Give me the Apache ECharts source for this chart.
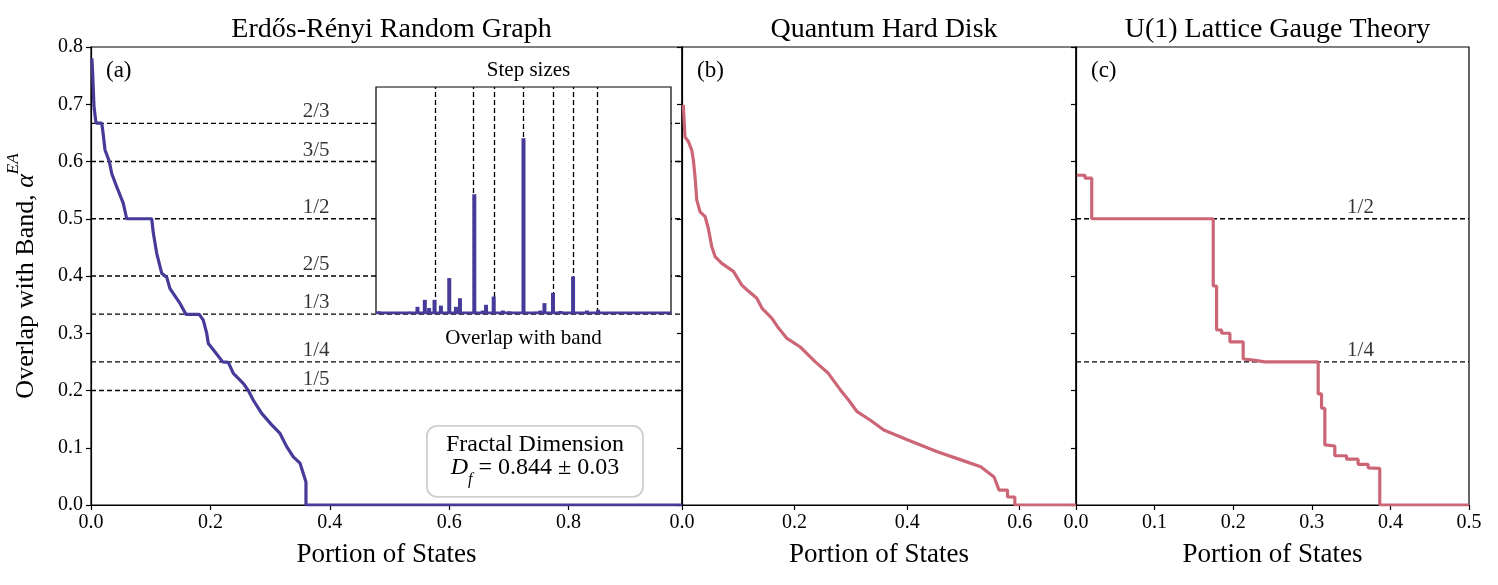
<!DOCTYPE html>
<html>
<head>
<meta charset="utf-8">
<script src="https://cdn.jsdelivr.net/npm/echarts@6/dist/echarts.min.js"></script>
<style>html,body{margin:0;padding:0;background:#fff;}#c{width:1498px;height:585px;}</style>
</head>
<body>
<div id="c"></div>
<script>
// ---------- data ----------
const erdosX = [0.0015,0.0028,0.0039,0.005,0.0084,0.0179,0.0196,0.0235,0.0307,0.033,0.0347,0.043,0.0541,0.0598,0.1017,0.1044,0.11,0.1184,0.1268,0.1323,0.1491,0.1591,0.1814,0.1881,0.1938,0.1965,0.2049,0.2206,0.23,0.2384,0.2551,0.2635,0.2719,0.2859,0.3027,0.3166,0.3278,0.3389,0.3501,0.3556,0.3601,0.3601,0.99];
const erdosY = [0.78,0.754,0.725,0.696,0.667,0.667,0.655,0.62,0.6,0.6,0.579,0.556,0.527,0.5,0.5,0.475,0.44,0.405,0.398,0.378,0.352,0.333,0.333,0.323,0.30,0.282,0.271,0.25,0.249,0.23,0.2125,0.2,0.183,0.16,0.14,0.125,0.102,0.084,0.073,0.055,0.04,0,0];

const diskX = [0.0023,0.0053,0.0112,0.0173,0.0201,0.0232,0.0262,0.0321,0.041,0.0468,0.0529,0.0588,0.0707,0.0914,0.1063,0.1152,0.133,0.1419,0.1598,0.1715,0.1865,0.2101,0.2369,0.26,0.2814,0.2962,0.3111,0.3348,0.3585,0.4002,0.4536,0.4892,0.5307,0.5544,0.5633,0.5783,0.5783,0.5913,0.5913,0.7];
const diskY = [0.699,0.643,0.635,0.62,0.603,0.573,0.533,0.512,0.504,0.483,0.451,0.434,0.422,0.408,0.384,0.376,0.361,0.344,0.326,0.309,0.291,0.276,0.25,0.23,0.201,0.183,0.163,0.148,0.131,0.114,0.093,0.081,0.067,0.049,0.026,0.026,0.014,0.014,0,0];

const gaugeX = [0.0009,0.0114,0.0114,0.02,0.02,0.1746,0.1746,0.1789,0.1789,0.1853,0.1853,0.1958,0.1958,0.2127,0.2127,0.2254,0.2403,0.3081,0.3081,0.3124,0.3124,0.3166,0.3166,0.3293,0.3293,0.3442,0.3442,0.3589,0.3589,0.3717,0.3717,0.3865,0.3865,0.5];
const gaugeY = [0.576,0.576,0.571,0.571,0.5,0.5,0.3825,0.3825,0.3057,0.3057,0.30,0.30,0.285,0.285,0.255,0.253,0.25,0.25,0.194,0.194,0.169,0.169,0.105,0.103,0.086,0.086,0.080,0.080,0.071,0.071,0.065,0.064,0,0];

const insetX = [0.0102,0.027,0.05,0.084,0.112,0.1406,0.1655,0.18,0.1984,0.22,0.2483,0.271,0.2846,0.3333,0.3617,0.373,0.399,0.43,0.452,0.5,0.543,0.557,0.571,0.6,0.625,0.668,0.715,0.753];
const insetH = [0.0004,0.00024,0.00024,0.00024,0.0003,0.0015,0.0032,0.0012,0.0032,0.0018,0.0085,0.0015,0.0036,0.0289,0.0006,0.002,0.004,0.0006,0.0004,0.0425,0.0003,0.0006,0.0024,0.0049,0.0005,0.0089,0.0006,0.0008];

const fracA = [2/3,3/5,1/2,2/5,1/3,1/4,1/5];
const fracALabels = ['2/3','3/5','1/2','2/5','1/3','1/4','1/5'];
const fracC = [1/2,1/4];
const fracCLabels = ['1/2','1/4'];
const insetLines = [1/5,1/3,2/5,1/2,3/5,2/3,3/4];

const titles = ['Erdős-Rényi Random Graph','Quantum Hard Disk','U(1) Lattice Gauge Theory'];
const panelLabels = ['(a)','(b)','(c)'];
const xMax = [0.99,0.7,0.5];
const xInterval = [0.2,0.2,0.1];

// ---------- styles ----------
const FONT = 'Liberation Serif';
const BLUE = '#463b98';
const ROSE = '#cc6677';
const pair = (xs,ys)=>xs.map((x,i)=>[x,ys[i]]);

const grids = [
  {left:91, top:47, width:591, height:458},
  {left:682, top:47, width:394, height:458},
  {left:1076, top:47, width:393, height:458},
  {left:376, top:87, width:295, height:226}
].map((g,i)=>Object.assign(g,{show:true, borderColor:'#000', borderWidth:1.2, backgroundColor: i===3?'#fff':'transparent', z: i===3?4:0}));

const xAxes = [0,1,2].map(i=>({
  type:'value', gridIndex:i, min:0, max:xMax[i], interval:xInterval[i],
  axisLine:{show:true, lineStyle:{color:'#000', width:1.2}},
  axisTick:{show:true, inside:false, length:5, lineStyle:{color:'#000', width:1.2}},
  axisLabel:{show:true, margin:8, fontFamily:FONT, fontSize:20, color:'#000', formatter:v=>v.toFixed(1), showMaxLabel: i===2},
  splitLine:{show:false},
  name:'Portion of States', nameLocation:'middle', nameGap:36,
  nameTextStyle:{fontFamily:FONT, fontSize:27, color:'#000'}
}));
xAxes.push({
  type:'value', gridIndex:3, min:0, max:1,
  axisLine:{show:false}, axisTick:{show:false}, axisLabel:{show:false}, splitLine:{show:false},
  name:'Overlap with band', nameLocation:'middle', nameGap:15,
  nameTextStyle:{fontFamily:FONT, fontSize:21, color:'#000'}
});

const yAxes = [0,1,2].map(i=>({
  type:'value', gridIndex:i, min:0, max:0.8, interval:0.1,
  axisLine:{show:true, lineStyle:{color:'#000', width:1.2}},
  axisTick:{show:true, inside:false, length:5, lineStyle:{color:'#000', width:1.2}},
  axisLabel:{show:i===0, margin:8, fontFamily:FONT, fontSize:20, color:'#000', formatter:v=>v.toFixed(1)},
  splitLine:{show:false},
  name: i===0 ? '{t|Overlap with Band, }{i|α}{sup|EA}' : '',
  nameLocation:'middle', nameGap:52, nameRotate:90,
  nameTextStyle:{fontFamily:FONT, fontSize:26, color:'#000',
    rich:{
      t:{fontFamily:FONT, fontSize:26, color:'#000', lineHeight:34, verticalAlign:'bottom'},
      i:{fontFamily:FONT, fontSize:26, fontStyle:'italic', color:'#000', lineHeight:34, verticalAlign:'bottom'},
      sup:{fontFamily:FONT, fontSize:17, fontStyle:'italic', color:'#000', lineHeight:34, verticalAlign:'top'}
    }}
}));
yAxes.push({type:'value', gridIndex:3, min:0, max:0.055, show:false});

const dashStyle = {color:'#000', width:1.3, type:[5,3]};
const series = [];

// dashed reference lines, panel (a)
fracA.forEach(f=>series.push({type:'line', xAxisIndex:0, yAxisIndex:0, data:[[0,f],[xMax[0],f]], symbol:'none', silent:true, lineStyle:dashStyle, z:1}));
series.push({type:'scatter', xAxisIndex:0, yAxisIndex:0, symbolSize:0, silent:true, z:3,
  data: fracA.map((f,i)=>({value:[0.377,f], name:fracALabels[i]})),
  label:{show:true, position:'top', distance:1, formatter:p=>p.name, fontFamily:FONT, fontSize:21, color:'#000'}});
// dashed reference lines, panel (c)
fracC.forEach(f=>series.push({type:'line', xAxisIndex:2, yAxisIndex:2, data:[[0,f],[xMax[2],f]], symbol:'none', silent:true, lineStyle:dashStyle, z:1}));
series.push({type:'scatter', xAxisIndex:2, yAxisIndex:2, symbolSize:0, silent:true, z:3,
  data: fracC.map((f,i)=>({value:[0.362,f], name:fracCLabels[i]})),
  label:{show:true, position:'top', distance:1, formatter:p=>p.name, fontFamily:FONT, fontSize:21, color:'#000'}});

// main curves
series.push({type:'line', xAxisIndex:0, yAxisIndex:0, data:pair(erdosX,erdosY), symbol:'none', lineStyle:{color:BLUE, width:3.2}, z:2});
series.push({type:'line', xAxisIndex:1, yAxisIndex:1, data:pair(diskX,diskY), symbol:'none', lineStyle:{color:ROSE, width:3.2}, z:2});
series.push({type:'line', xAxisIndex:2, yAxisIndex:2, data:pair(gaugeX,gaugeY), symbol:'none', lineStyle:{color:ROSE, width:3.2}, z:2});

// inset
series.push({type:'line', xAxisIndex:3, yAxisIndex:3, data:[[0,0],[1,0]], symbol:'none', lineStyle:{color:BLUE, width:3}, z:6, silent:true});
series.push({type:'bar', xAxisIndex:3, yAxisIndex:3, data:pair(insetX,insetH), barWidth:4, itemStyle:{color:BLUE}, z:6, silent:true,
  markLine:{symbol:'none', silent:true, label:{show:false}, lineStyle:dashStyle, data: insetLines.map(f=>({xAxis:f}))}});

const centers = grids.slice(0,3).map(g=>g.left+g.width/2);
const option = {
  animation:false,
  backgroundColor:'#fff',
  textStyle:{fontFamily:FONT},
  title: titles.map((t,i)=>({text:t, left:centers[i], top:11, textAlign:'center',
    textStyle:{fontFamily:FONT, fontSize:28, fontWeight:'normal', color:'#000'}})).concat([
    {text:'Step sizes', left:523.5, top:55, textAlign:'center', textStyle:{fontFamily:FONT, fontSize:21, fontWeight:'normal', color:'#000'}}
  ]),
  grid: grids, xAxis: xAxes, yAxis: yAxes, series: series,
  graphic: [
    ...panelLabels.map((t,i)=>({type:'text', left:grids[i].left+15, top:59, style:{text:t, font:'23px "'+FONT+'"', fill:'#000'}, z:10})),
    {type:'group', left:426, top:425, z:10, children:[
      {type:'rect', shape:{x:0, y:0, width:216, height:71, r:10}, style:{fill:'rgba(255,255,255,0.85)', stroke:'#cfcfcf', lineWidth:1.8}},
      {type:'text', x:108, y:7, style:{text:'Fractal Dimension', font:'24px "'+FONT+'"', fill:'#000', align:'center'}},
      {type:'text', x:108, y:30, style:{
        text:'{i|D}{sub|f}{n| = 0.844 ± 0.03}', align:'center',
        rich:{
          i:{font:'italic 24px "'+FONT+'"', fill:'#000', lineHeight:32, verticalAlign:'top'},
          sub:{font:'italic 16px "'+FONT+'"', fill:'#000', lineHeight:32, verticalAlign:'bottom'},
          n:{font:'24px "'+FONT+'"', fill:'#000', lineHeight:32, verticalAlign:'top'}
        }}}
    ]}
  ]
};
const chart = echarts.init(document.getElementById('c'), null, {renderer:'canvas'});
chart.setOption(option);
</script>
</body>
</html>
